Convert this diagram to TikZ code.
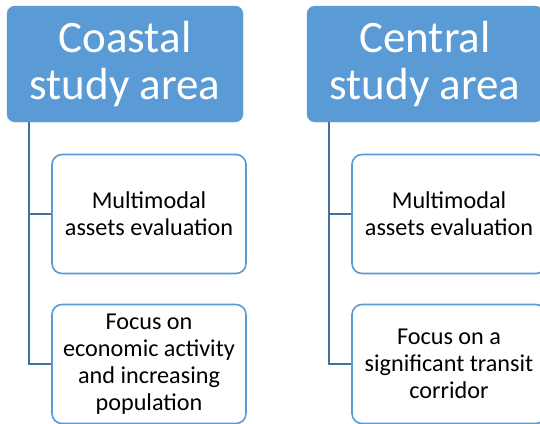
\documentclass[tikz,border=0pt]{standalone}
\usepackage{fontspec}
\setmainfont{Carlito}
\definecolor{hdblue}{HTML}{5B9BD5}
\definecolor{lnblue}{HTML}{41719C}
\tikzset{
  head/.style={fill=hdblue, draw=hdblue, rounded corners=8pt, minimum width=236pt, minimum height=116pt,
    text=white, align=center, font=\fontsize{45}{47}\selectfont, inner sep=0pt},
  item/.style={fill=white, draw=hdblue, line width=1.6pt, rounded corners=10pt, minimum width=194pt, minimum height=119pt,
    align=center, font=\fontsize{24.2}{27}\selectfont, inner sep=0pt},
  link/.style={draw=lnblue, line width=2.4pt}
}
\begin{document}
\begin{tikzpicture}[x=1pt, y=-1pt]
\useasboundingbox (0,0) rectangle (540,423);
\node[head](coast) at (125,64) {Coastal\\study area};
\node[head](central) at (425,64) {Central\\study area};
\node[item](coastA) at (149,214) {Multimodal\\assets evaluation};
\node[item](coastB) at (149,364) {Focus on\\economic activity\\and increasing\\population};
\node[item](centralA) at (449,214) {Multimodal\\assets evaluation};
\node[item](centralB) at (449,364) {Focus on a\\significant transit\\corridor};
\coordinate (coastTop) at (29,122);
\coordinate (centralTop) at (329,122);
\draw[link](coastTop)--(coastTop|-coastB)--(coastB.west);
\draw[link](coastTop|-coastA)--(coastA.west);
\draw[link](centralTop)--(centralTop|-centralB)--(centralB.west);
\draw[link](centralTop|-centralA)--(centralA.west);
\end{tikzpicture}
\end{document}
